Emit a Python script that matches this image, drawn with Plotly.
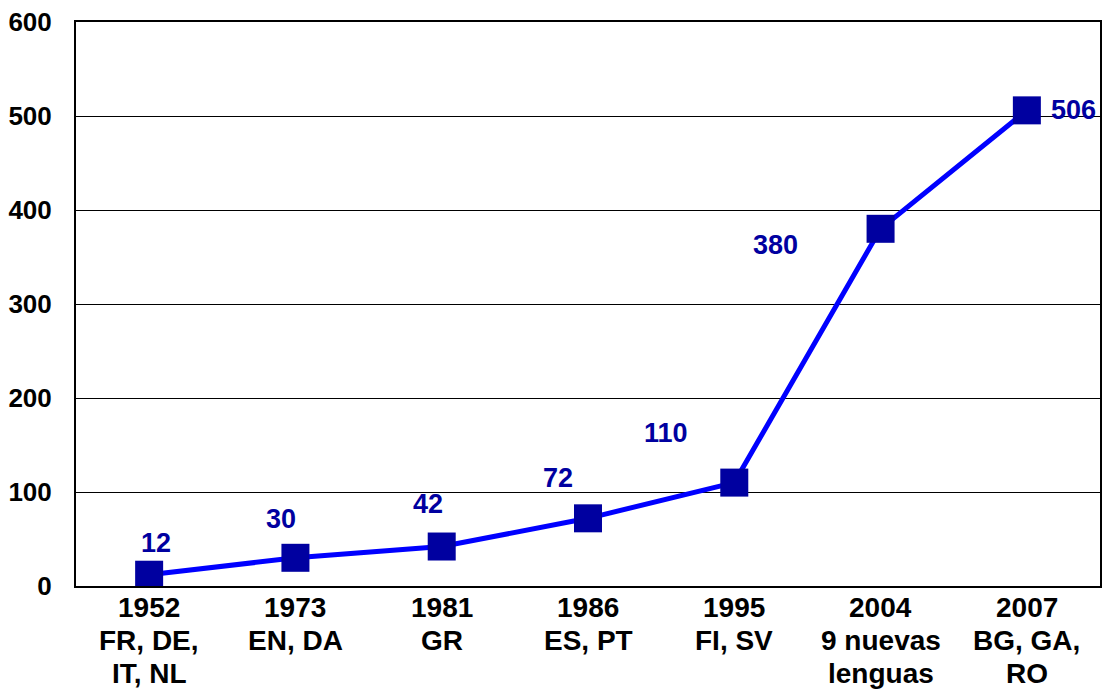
import plotly.graph_objects as go

years = ["1952", "1973", "1981", "1986", "1995", "2004", "2007"]
langs_line1 = ["FR, DE,", "EN, DA", "GR", "ES, PT", "FI, SV", "9 nuevas", "BG, GA,"]
langs_line2 = ["IT, NL", "", "", "", "", "lenguas", "RO"]
values = [12, 30, 42, 72, 110, 380, 506]
y_ticks = [0, 100, 200, 300, 400, 500, 600]
# label offsets in pixels (dx, dy) relative to each point
label_dx = [7, -14, -14, -30, -68, -105, 47]
label_dy = [32, 39, 43, 40, 50, -16, 0]

xs = list(range(len(years)))
FONT = "Liberation Sans, Arial, sans-serif"

fig = go.Figure()
fig.add_trace(go.Scatter(
    x=xs, y=values, mode="lines+markers",
    line=dict(color="#0000FF", width=5),
    marker=dict(symbol="square", size=28, color="#0000A0"),
    showlegend=False, hoverinfo="skip",
))

for x, v, dx, dy in zip(xs, values, label_dx, label_dy):
    fig.add_annotation(
        x=x, y=v, xref="x", yref="y", text=str(v), showarrow=False,
        xshift=dx, yshift=dy,
        font=dict(family=FONT, size=27, color="#0000A0", weight="bold"),
    )

for x, yr, l1, l2 in zip(xs, years, langs_line1, langs_line2):
    for txt, shift in ((yr, -21), (l1, -54), (l2, -87)):
        if txt:
            fig.add_annotation(
                x=x, y=0, xref="x", yref="paper", text=txt, showarrow=False,
                yanchor="middle", yshift=shift,
                font=dict(family=FONT, size=28, color="black", weight="bold"),
            )

fig.update_layout(
    width=1102, height=690,
    margin=dict(l=76, r=2, t=22, b=104),
    paper_bgcolor="white", plot_bgcolor="white",
    xaxis=dict(
        range=[-0.5, 6.5], tickmode="array", tickvals=xs, ticktext=years,
        showticklabels=False,
        showgrid=False, zeroline=False, ticks="", automargin=False,
        showline=True, linecolor="black", linewidth=2, mirror=True,
    ),
    yaxis=dict(
        range=[0, 600], tickmode="array", tickvals=y_ticks, automargin=False,
        showgrid=True, gridcolor="black", gridwidth=1, zeroline=False, ticks="",
        showline=True, linecolor="black", linewidth=2, mirror=True,
        ticklabelstandoff=17,
        tickfont=dict(family=FONT, size=26, color="black", weight="bold"),
    ),
)

fig.write_html("out.html", config={"displayModeBar": False},
               post_script="document.body.style.margin='0';")
